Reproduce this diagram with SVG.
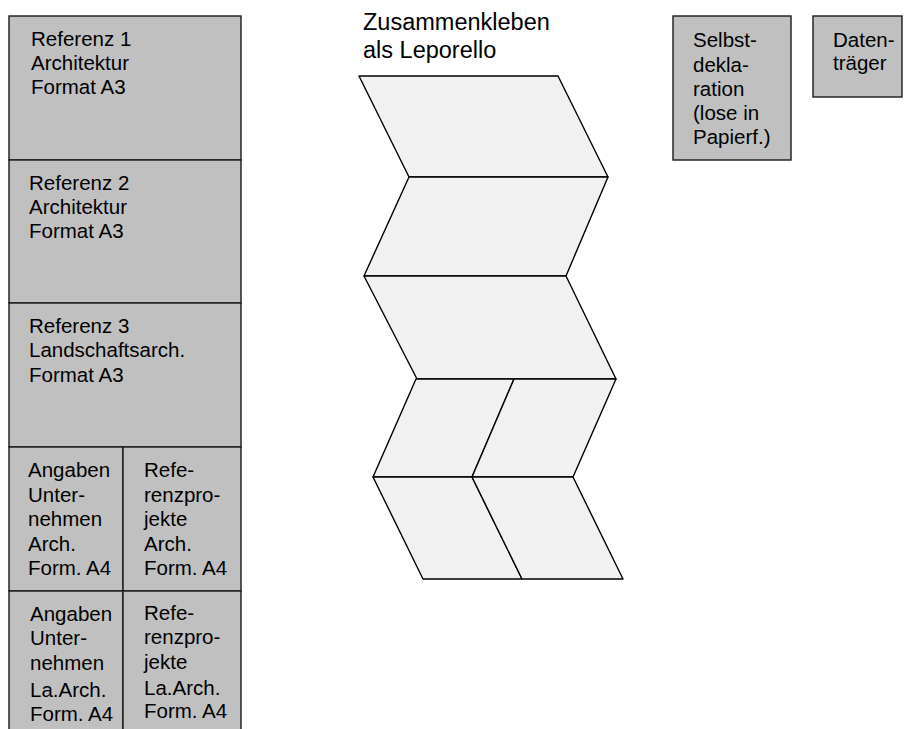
<svg xmlns="http://www.w3.org/2000/svg" width="904" height="729" viewBox="0 0 904 729">
<style>
.box{fill:#c0c0c0;stroke:#1a1a1a;stroke-width:1.4}
.pan{fill:#f1f1f1;stroke:#000;stroke-width:1.4;stroke-linejoin:round}
.t{font-family:"Liberation Sans",Arial,sans-serif;font-size:20.5px;fill:#000}
.h{font-family:"Liberation Sans",Arial,sans-serif;font-size:23.5px;fill:#000}
</style>
<rect width="904" height="729" fill="#fff"/>
<g id="ref1"><rect class="box" x="9" y="16" width="232" height="144"/>
<text class="t"><tspan x="31" y="46">Referenz 1</tspan><tspan x="31" y="70">Architektur</tspan><tspan x="31" y="94">Format A3</tspan></text></g>
<g id="ref2"><rect class="box" x="9" y="160" width="232" height="143"/>
<text class="t"><tspan x="29" y="190">Referenz 2</tspan><tspan x="29" y="214">Architektur</tspan><tspan x="29" y="238">Format A3</tspan></text></g>
<g id="ref3"><rect class="box" x="9" y="303" width="232" height="144"/>
<text class="t"><tspan x="29" y="333">Referenz 3</tspan><tspan x="29" y="357">Landschaftsarch.</tspan><tspan x="29" y="382">Format A3</tspan></text></g>
<g id="angaben-arch"><rect class="box" x="9" y="447" width="114" height="144"/>
<text class="t"><tspan x="28" y="477">Angaben</tspan><tspan x="28" y="502">Unter-</tspan><tspan x="28" y="526">nehmen</tspan><tspan x="28" y="551">Arch.</tspan><tspan x="28" y="575">Form. A4</tspan></text></g>
<g id="refprojekte-arch"><rect class="box" x="123" y="447" width="118" height="144"/>
<text class="t"><tspan x="144" y="477">Refe-</tspan><tspan x="144" y="502">renzpro-</tspan><tspan x="144" y="526">jekte</tspan><tspan x="144" y="551">Arch.</tspan><tspan x="144" y="575">Form. A4</tspan></text></g>
<g id="angaben-laarch"><rect class="box" x="9" y="591" width="114" height="150"/>
<text class="t"><tspan x="30" y="621">Angaben</tspan><tspan x="30" y="645">Unter-</tspan><tspan x="30" y="670">nehmen</tspan><tspan x="30" y="697">La.Arch.</tspan><tspan x="30" y="721">Form. A4</tspan></text></g>
<g id="refprojekte-laarch"><rect class="box" x="123" y="591" width="118" height="150"/>
<text class="t"><tspan x="144" y="620">Refe-</tspan><tspan x="144" y="644">renzpro-</tspan><tspan x="144" y="669">jekte</tspan><tspan x="144" y="695">La.Arch.</tspan><tspan x="144" y="718">Form. A4</tspan></text></g>
<g id="selbstdeklaration"><rect class="box" x="673" y="16" width="118" height="144"/>
<text class="t"><tspan x="693" y="47">Selbst-</tspan><tspan x="693" y="72">dekla-</tspan><tspan x="693" y="96">ration</tspan><tspan x="693" y="120">(lose in</tspan><tspan x="693" y="144">Papierf.)</tspan></text></g>
<g id="datentraeger"><rect class="box" x="813" y="16" width="89" height="81"/>
<text class="t"><tspan x="833" y="47">Daten-</tspan><tspan x="833" y="70">träger</tspan></text></g>
<g id="leporello">
<text class="h"><tspan x="363" y="30">Zusammenkleben</tspan><tspan x="363" y="58">als Leporello</tspan></text>
<polygon class="pan" points="359,76 558,76 608,177 409,177"/>
<polygon class="pan" points="409,177 608,177 566,276 364,276"/>
<polygon class="pan" points="364,276 566,276 616,379 417,379"/>
<polygon class="pan" points="416,379 514,379 472,477 373,477"/>
<polygon class="pan" points="514,379 616,379 573,477 472,477"/>
<polygon class="pan" points="373,477 472,477 522,579 423,579"/>
<polygon class="pan" points="472,477 573,477 623,579 522,579"/>
</g>
<g id="connectors"/>
</svg>
